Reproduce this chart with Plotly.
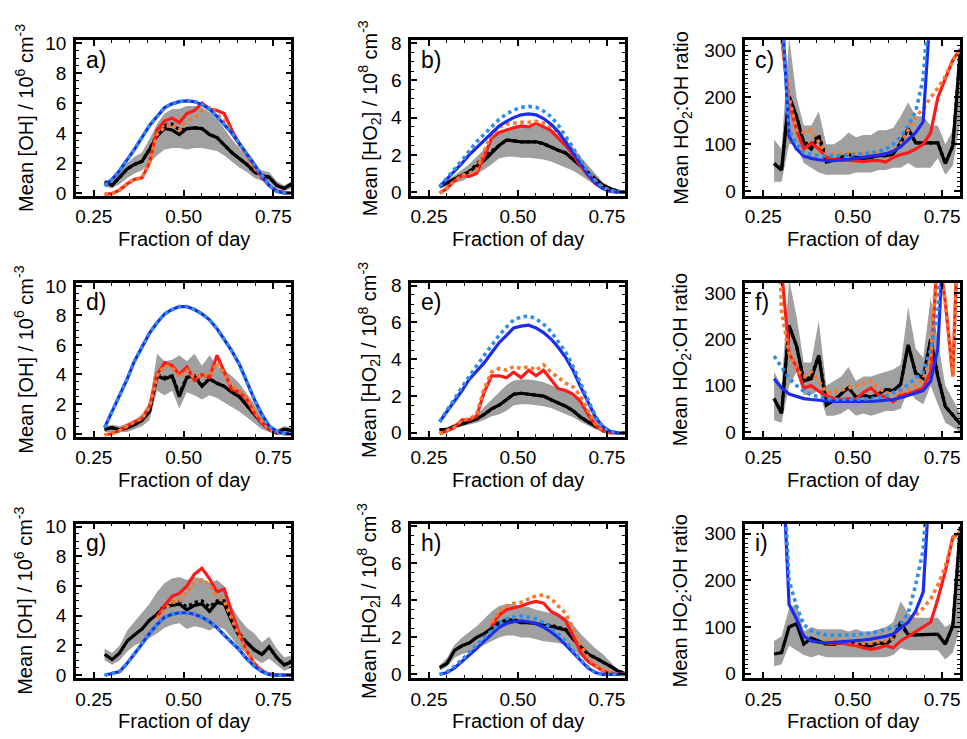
import plotly.graph_objects as go

# ---------------- data ----------------
X = [0.280, 0.301, 0.322, 0.343, 0.363, 0.384, 0.405, 0.426, 0.447, 0.468, 0.488, 0.509, 0.530,
     0.551, 0.572, 0.593, 0.613, 0.634, 0.655, 0.676, 0.697, 0.718, 0.738, 0.759, 0.780, 0.801]
N = None
X_TICKS = [0.25, 0.50, 0.75]
X_TICKTEXT = ["0.25", "0.50", "0.75"]

# panel a (OH)
a_lo = [0.4, 0.3, 0.6, 1.0, 1.3, 1.5, 2.0, 2.5, 2.9, 3.0, 3.0, 2.9, 3.0, 3.0, 2.9, 2.8, 2.5, 2.1, 1.7, 1.4, 1.0, 0.8, 0.7, 0.3, 0.1, 0.3]
a_hi = [0.9, 0.8, 1.4, 2.0, 2.4, 2.7, 3.6, 4.6, 5.3, 5.6, 5.6, 5.8, 5.8, 5.7, 5.4, 4.9, 4.3, 3.6, 3.0, 2.4, 1.8, 1.5, 1.4, 0.8, 0.5, 0.8]
a_obs = [0.7, 0.5, 1.05, 1.6, 1.9, 2.1, 2.9, 3.8, 4.3, 4.2, 3.9, 4.3, 4.35, 4.3, 3.9, 3.7, 3.2, 2.7, 2.3, 1.9, 1.4, 1.15, 1.05, 0.5, 0.3, 0.6]
a_obs_dot = [0.7, 0.5, 1.05, 1.6, 1.9, 2.1, 2.9, 3.9, 4.5, 4.6, 4.2, 4.3, 4.35, 4.3, 3.9, 3.7, 3.2, 2.7, 2.3, 1.9, 1.4, 1.15, 1.05, 0.5, 0.3, 0.6]
a_red = [-0.1, -0.05, 0.2, 0.6, 0.9, 1.0, 2.0, 4.2, 4.8, 5.0, 4.7, 5.3, 5.5, 6.0, 5.6, 5.5, 5.3, 4.2, 3.3, 2.5, 1.7, 1.0, 0.5, 0.15, 0.0, 0.0]
a_orange = [-0.1, -0.05, 0.2, 0.6, 0.9, 1.0, 2.0, 3.9, 4.4, 4.6, 4.2, 4.8, 5.0, 5.5, 5.7, 5.2, 4.8, 4.0, 3.2, 2.5, 1.7, 1.0, 0.5, 0.15, 0.0, 0.0]
a_blue = [0.5, 0.9, 1.5, 2.2, 2.9, 3.7, 4.5, 5.1, 5.7, 5.95, 6.1, 6.15, 6.1, 5.9, 5.6, 5.1, 4.6, 4.0, 3.3, 2.6, 1.9, 1.1, 0.5, 0.1, 0.0, 0.0]
a_lblue = [0.5, 0.9, 1.5, 2.2, 2.9, 3.7, 4.5, 5.1, 5.7, 5.95, 6.1, 6.15, 6.1, 5.9, 5.6, 5.1, 4.6, 4.0, 3.3, 2.6, 1.9, 1.1, 0.5, 0.1, 0.0, 0.0]

# panel b (HO2)
b_lo = [0.2, 0.3, 0.5, 0.6, 0.8, 1.0, 1.2, 1.5, 1.8, 1.9, 1.9, 1.85, 1.85, 1.8, 1.75, 1.65, 1.5, 1.35, 1.15, 0.9, 0.6, 0.35, 0.15, 0.05, 0.0, 0.0]
b_hi = [0.4, 0.6, 0.9, 1.2, 1.5, 1.9, 2.3, 2.8, 3.2, 3.4, 3.45, 3.5, 3.55, 3.6, 3.5, 3.3, 3.1, 2.8, 2.4, 1.9, 1.45, 0.95, 0.55, 0.3, 0.1, 0.0]
b_obs = [0.3, 0.5, 0.7, 0.9, 1.1, 1.4, 1.7, 2.1, 2.5, 2.8, 2.75, 2.7, 2.7, 2.7, 2.6, 2.4, 2.25, 2.1, 1.75, 1.4, 1.05, 0.65, 0.37, 0.2, 0.05, 0.0]
b_obs_dot = [0.3, 0.5, 0.7, 0.9, 1.1, 1.5, 1.9, 2.2, 2.5, 2.8, 2.75, 2.7, 2.7, 2.7, 2.6, 2.4, 2.25, 2.1, 1.75, 1.4, 1.05, 0.65, 0.37, 0.2, 0.05, 0.0]
b_red = [-0.05, 0.2, 0.6, 0.9, 0.85, 1.0, 1.9, 2.9, 3.2, 3.35, 3.45, 3.55, 3.5, 3.7, 3.5, 3.3, 2.9, 2.5, 2.0, 1.4, 0.9, 0.45, 0.2, 0.05, 0.0, 0.0]
b_orange = [-0.05, 0.2, 0.6, 0.9, 1.0, 1.2, 2.2, 3.1, 3.5, 3.65, 3.7, 3.75, 3.75, 3.8, 3.7, 3.5, 3.2, 2.8, 2.3, 1.7, 1.1, 0.6, 0.25, 0.08, 0.0, 0.0]
b_blue = [0.3, 0.7, 1.1, 1.55, 2.0, 2.4, 2.8, 3.2, 3.55, 3.8, 4.0, 4.15, 4.2, 4.15, 3.95, 3.65, 3.25, 2.7, 2.1, 1.5, 0.95, 0.5, 0.2, 0.05, 0.0, 0.0]
b_lblue = [0.3, 0.75, 1.2, 1.7, 2.2, 2.7, 3.1, 3.5, 3.9, 4.2, 4.4, 4.55, 4.6, 4.55, 4.35, 4.05, 3.6, 3.0, 2.35, 1.7, 1.1, 0.6, 0.25, 0.08, 0.0, 0.0]

# panel c (HO2:OH ratio)
c_lo = [20, 20, 100, 100, 60, 50, 40, 35, 35, 35, 35, 40, 40, 40, 45, 45, 50, 50, 60, 50, 50, 50, 70, 35, 55, 150]
c_hi = [110, 90, 330, 200, 140, 140, 170, 100, 100, 110, 125, 115, 120, 120, 130, 130, 135, 160, 190, 160, 160, 140, 140, 100, 130, 320]
c_obs = [59, 45, 203, 159, 103, 90, 117, 62, 66, 72, 79, 72, 69, 72, 76, 76, 79, 103, 134, 103, 103, 103, 103, 59, 97, 303]
c_obs_dot = [59, 45, 203, 159, 103, 100, 120, 70, 66, 72, 79, 72, 69, 72, 76, 76, 79, 103, 134, 103, 103, 103, 103, 59, 97, 303]
c_red = [700, 330, 190, 130, 90, 103, 90, 72, 68, 66, 66, 65, 63, 65, 65, 62, 72, 78, 82, 90, 100, 125, 200, 240, 280, 303]
c_orange = [700, 330, 200, 130, 125, 130, 105, 80, 80, 80, 80, 80, 80, 80, 80, 80, 85, 100, 130, 160, 175, 200, 220, 245, 280, 303]
c_blue = [800, 400, 117, 90, 75, 70, 67, 65, 65, 66, 68, 70, 72, 74, 77, 80, 85, 95, 110, 125, 148, 400, 800, N, N, N]
c_lblue = [800, 400, 130, 100, 82, 78, 76, 75, 75, 75, 76, 78, 80, 82, 85, 90, 100, 115, 140, 170, 240, 450, 800, N, N, N]

# panel d (OH)
d_lo = [0.1, 0.1, 0.05, 0.1, 0.3, 0.5, 0.9, 2.9, 2.6, 2.9, 1.7, 2.8, 2.6, 2.3, 2.6, 2.4, 2.1, 1.8, 1.5, 1.1, 0.7, 0.3, 0.1, -0.1, 0.0, 0.0]
d_hi = [0.5, 0.6, 0.5, 0.7, 0.9, 1.3, 2.1, 5.4, 4.9, 5.0, 5.3, 4.9, 5.4, 4.6, 5.3, 4.6, 4.3, 3.9, 3.4, 2.7, 2.0, 1.2, 0.6, 0.3, 0.5, 0.4]
d_obs = [0.3, 0.4, 0.25, 0.4, 0.6, 0.9, 1.5, 3.9, 3.7, 3.9, 2.5, 3.8, 3.9, 3.2, 3.7, 3.4, 3.2, 2.8, 2.5, 1.9, 1.3, 0.7, 0.3, 0.05, 0.3, 0.2]
d_obs_dot = [0.3, 0.4, 0.25, 0.4, 0.6, 0.9, 1.5, 4.0, 3.8, 3.9, 2.7, 3.8, 3.9, 3.3, 3.7, 3.4, 3.2, 2.8, 2.5, 1.9, 1.3, 0.7, 0.3, 0.05, 0.3, 0.2]
d_red = [-0.1, 0.0, 0.2, 0.5, 0.8, 1.0, 1.8, 4.0, 4.8, 4.6, 4.0, 4.5, 3.6, 4.0, 3.8, 5.3, 4.2, 3.0, 2.8, 2.3, 1.4, 0.7, 0.3, 0.1, 0.0, 0.0]
d_orange = [-0.1, 0.0, 0.2, 0.5, 0.8, 1.0, 1.8, 3.9, 4.6, 4.5, 3.8, 4.3, 3.8, 4.0, 3.9, 4.8, 4.0, 3.2, 2.9, 2.4, 1.5, 0.8, 0.3, 0.1, 0.0, 0.0]
d_blue = [0.4, 1.5, 2.6, 3.7, 4.9, 5.9, 6.8, 7.5, 8.1, 8.4, 8.6, 8.6, 8.4, 8.1, 7.7, 7.1, 6.4, 5.6, 4.7, 3.5, 2.3, 1.3, 0.5, 0.15, 0.0, 0.0]
d_lblue = [0.4, 1.5, 2.6, 3.7, 4.9, 5.9, 6.8, 7.5, 8.1, 8.4, 8.6, 8.6, 8.4, 8.1, 7.7, 7.1, 6.4, 5.6, 4.7, 3.5, 2.3, 1.3, 0.5, 0.15, 0.0, 0.0]

# panel e (HO2)
e_lo = [0.1, 0.1, 0.25, 0.35, 0.45, 0.55, 0.7, 0.9, 1.0, 1.2, 1.5, 1.55, 1.55, 1.5, 1.45, 1.35, 1.2, 1.05, 0.85, 0.6, 0.4, 0.2, 0.1, 0.0, 0.0, 0.0]
e_hi = [0.25, 0.3, 0.5, 0.7, 0.8, 1.0, 1.4, 1.8, 2.2, 2.6, 2.85, 2.9, 2.9, 2.85, 2.75, 2.6, 2.45, 2.25, 2.0, 1.6, 1.2, 0.75, 0.35, 0.1, 0.0, 0.0]
e_obs = [0.17, 0.17, 0.35, 0.5, 0.6, 0.75, 1.0, 1.3, 1.5, 1.8, 2.1, 2.15, 2.1, 2.05, 2.0, 1.8, 1.65, 1.45, 1.2, 0.85, 0.6, 0.35, 0.17, 0.03, 0.0, 0.0]
e_obs_dot = [0.17, 0.17, 0.35, 0.5, 0.6, 0.75, 1.0, 1.3, 1.5, 1.8, 2.1, 2.15, 2.1, 2.05, 2.0, 1.8, 1.65, 1.45, 1.2, 0.85, 0.6, 0.35, 0.17, 0.03, 0.0, 0.0]
e_red = [-0.05, 0.1, 0.3, 0.7, 0.7, 0.9, 2.2, 3.1, 3.1, 3.0, 3.3, 3.0, 3.4, 3.1, 3.4, 2.9, 2.4, 2.3, 2.1, 1.7, 1.0, 0.4, 0.1, 0.0, 0.0, 0.0]
e_orange = [-0.05, 0.1, 0.3, 0.7, 0.75, 1.0, 2.4, 3.3, 3.5, 3.4, 3.6, 3.5, 3.6, 3.4, 3.7, 3.3, 3.0, 2.7, 2.5, 2.0, 1.2, 0.5, 0.15, 0.0, 0.0, 0.0]
e_blue = [0.6, 1.15, 1.7, 2.3, 2.9, 3.35, 3.8, 4.35, 4.9, 5.3, 5.7, 5.8, 5.85, 5.7, 5.45, 5.1, 4.65, 4.1, 3.4, 2.5, 1.7, 0.85, 0.35, 0.08, 0.0, 0.0]
e_lblue = [0.6, 1.2, 1.85, 2.5, 3.1, 3.65, 4.2, 4.75, 5.3, 5.75, 6.15, 6.3, 6.35, 6.2, 5.9, 5.5, 5.0, 4.4, 3.6, 2.7, 1.8, 0.9, 0.35, 0.08, 0.0, 0.0]

# panel f (HO2:OH ratio)
f_lo = [25, 20, 100, 130, 80, 80, 90, 35, 35, 40, 50, 35, 40, 35, 40, 45, 45, 50, 90, 70, 60, 100, 60, 20, 10, 0]
f_hi = [130, 100, 330, 250, 150, 150, 240, 100, 110, 120, 140, 110, 120, 120, 125, 130, 135, 145, 270, 180, 160, 290, 200, 100, 70, 40]
f_obs = [72, 40, 230, 185, 110, 115, 165, 58, 68, 82, 96, 75, 79, 75, 82, 92, 89, 103, 188, 127, 116, 200, 120, 55, 35, 17]
f_obs_dot = [72, 40, 230, 185, 110, 120, 165, 65, 68, 82, 96, 75, 79, 75, 82, 92, 89, 103, 188, 127, 116, 200, 120, 55, 35, 17]
f_red = [700, 350, 170, 140, 95, 100, 88, 78, 72, 70, 72, 70, 85, 95, 80, 75, 65, 80, 82, 88, 95, 130, 400, 280, 120, 600]
f_orange = [700, 260, 170, 135, 120, 130, 110, 85, 85, 90, 95, 100, 105, 110, 95, 85, 80, 85, 90, 100, 115, 160, 400, 280, 120, 600]
f_blue = [115, 95, 82, 76, 72, 70, 68, 67, 66, 66, 65, 65, 65, 66, 67, 68, 70, 74, 79, 85, 89, 110, 180, 500, N, N]
f_lblue = [164, 140, 116, 100, 88, 80, 75, 72, 70, 70, 70, 70, 71, 72, 74, 78, 84, 92, 102, 115, 130, 178, 260, 600, N, N]

# panel g (OH)
g_lo = [1.0, 0.7, 1.0, 1.6, 2.0, 2.2, 2.5, 2.8, 3.2, 3.4, 3.5, 3.1, 3.3, 3.2, 3.0, 3.3, 3.1, 2.5, 1.8, 1.5, 1.1, 0.8, 1.1, 0.7, 0.3, 0.5]
g_hi = [1.8, 1.5, 2.0, 3.0, 3.6, 4.2, 4.8, 5.6, 6.2, 6.5, 6.6, 6.4, 6.6, 6.5, 6.2, 6.4, 6.0, 4.6, 3.8, 3.2, 2.8, 2.2, 2.6, 1.8, 1.2, 1.3]
g_obs = [1.4, 1.05, 1.5, 2.3, 2.7, 3.1, 3.7, 4.1, 4.6, 4.7, 4.8, 4.4, 4.7, 4.8, 4.3, 4.9, 4.8, 3.6, 2.6, 2.2, 1.7, 1.4, 1.9, 1.2, 0.7, 0.9]
g_obs_dot = [N, N, N, N, N, N, N, 4.1, 4.7, 4.9, 4.9, 4.6, 4.9, 5.0, 4.6, 5.0, 5.0, 3.8, 2.8, 2.2, 1.7, 1.4, 1.9, 1.2, 0.7, 0.9]
g_red = [N, N, N, N, N, N, N, 3.9, 4.7, 5.3, 5.5, 6.0, 6.8, 7.2, 6.5, 5.6, 5.8, 4.2, 2.8, 1.6, 0.8, 0.3, 0.05, 0.0, 0.0, 0.0]
g_orange = [N, N, N, N, N, N, N, 3.8, 4.4, 4.9, 5.0, 5.6, 6.2, 6.4, 6.1, 5.3, 5.0, 3.8, 2.6, 1.6, 0.8, 0.3, 0.1, 0.0, 0.0, 0.0]
g_blue = [0.0, 0.1, 0.25, 0.8, 1.4, 2.1, 2.8, 3.4, 3.9, 4.1, 4.2, 4.2, 4.1, 3.9, 3.6, 3.2, 2.7, 2.2, 1.7, 1.1, 0.6, 0.25, 0.05, 0.0, 0.0, 0.0]
g_lblue = [0.0, 0.1, 0.25, 0.8, 1.4, 2.1, 2.8, 3.4, 3.9, 4.1, 4.2, 4.2, 4.1, 3.9, 3.6, 3.2, 2.7, 2.2, 1.7, 1.1, 0.6, 0.25, 0.05, 0.0, 0.0, 0.0]

# panel h (HO2)
h_lo = [0.2, 0.4, 0.9, 1.1, 1.2, 1.4, 1.6, 1.8, 2.0, 2.1, 2.1, 2.0, 2.0, 1.9, 1.8, 1.75, 1.7, 1.6, 1.3, 1.0, 0.6, 0.4, 0.3, 0.2, 0.05, 0.0]
h_hi = [0.5, 0.9, 1.6, 2.0, 2.3, 2.6, 3.0, 3.4, 3.7, 3.8, 3.8, 3.7, 3.65, 3.5, 3.4, 3.3, 3.2, 3.1, 2.7, 2.2, 1.8, 1.4, 1.1, 0.7, 0.3, 0.1]
h_obs = [0.37, 0.6, 1.3, 1.55, 1.7, 2.0, 2.2, 2.5, 2.8, 2.9, 2.9, 2.8, 2.8, 2.75, 2.65, 2.6, 2.5, 2.4, 1.9, 1.5, 1.1, 0.9, 0.7, 0.45, 0.2, 0.05]
h_obs_dot = [N, N, N, N, N, N, N, 2.5, 2.8, 2.95, 2.95, 2.85, 2.8, 2.75, 2.7, 2.65, 2.55, 2.45, 1.95, 1.5, 1.1, 0.9, 0.7, 0.45, 0.2, 0.05]
h_red = [N, N, N, N, N, N, N, 2.6, 3.2, 3.5, 3.6, 3.7, 3.85, 3.95, 3.85, 3.4, 3.2, 2.9, 2.1, 1.2, 0.7, 0.45, 0.2, 0.1, 0.0, 0.0]
h_orange = [N, N, N, N, N, N, N, 2.8, 3.4, 3.7, 3.85, 3.9, 4.1, 4.25, 4.3, 4.1, 3.7, 3.3, 2.5, 1.6, 0.9, 0.5, 0.25, 0.1, 0.0, 0.0]
h_blue = [0.0, 0.1, 0.35, 0.7, 1.05, 1.4, 1.8, 2.2, 2.55, 2.75, 2.85, 2.9, 2.85, 2.75, 2.55, 2.3, 2.0, 1.6, 1.2, 0.75, 0.35, 0.1, 0.0, 0.0, 0.0, 0.0]
h_lblue = [0.0, 0.15, 0.45, 0.8, 1.2, 1.6, 2.0, 2.4, 2.75, 3.0, 3.1, 3.15, 3.1, 3.0, 2.8, 2.5, 2.2, 1.8, 1.3, 0.8, 0.4, 0.1, 0.0, 0.0, 0.0, 0.0]

# panel i (HO2:OH ratio)
i_lo = [15, 20, 60, 50, 40, 35, 40, 35, 35, 35, 35, 35, 35, 35, 35, 35, 40, 55, 50, 50, 50, 50, 50, 30, 45, 100]
i_hi = [70, 80, 140, 150, 90, 100, 95, 95, 95, 95, 90, 95, 90, 90, 95, 100, 110, 155, 130, 120, 120, 120, 120, 100, 110, 320]
i_obs = [42, 45, 100, 107, 63, 76, 70, 63, 63, 66, 66, 63, 59, 59, 66, 63, 76, 110, 83, 83, 84, 84, 84, 63, 103, 315]
i_obs_dot = [N, N, N, N, N, N, N, 63, 63, 66, 66, 63, 62, 62, 66, 68, 76, 105, 83, 83, 84, 84, 84, 63, 103, 315]
i_red = [N, N, N, N, N, N, N, 63, 65, 65, 62, 60, 55, 52, 55, 60, 55, 70, 80, 90, 100, 110, 160, 220, 293, 303]
i_orange = [N, N, N, N, N, N, N, 70, 72, 72, 68, 65, 65, 65, 68, 70, 75, 95, 110, 125, 140, 160, 190, 230, 290, 305]
i_blue = [700, 500, 148, 117, 80, 70, 67, 66, 67, 68, 70, 70, 72, 74, 77, 80, 85, 97, 110, 134, 175, 450, N, N, N, N]
i_lblue = [700, 500, 200, 144, 105, 92, 86, 83, 82, 82, 82, 83, 85, 87, 90, 95, 98, 105, 130, 190, 265, 500, N, N, N, N]

PANEL_LABELS = ["a)", "b)", "c)", "d)", "e)", "f)", "g)", "h)", "i)"]
X_TITLE = "Fraction of day"
Y_TITLES = {
    "oh": "Mean [OH] / 10<sup>6</sup> cm<sup>-3</sup>",
    "ho2": "Mean [HO<sub>2</sub>] / 10<sup>8</sup> cm<sup>-3</sup>",
    "ratio": "Mean HO<sub>2</sub>:OH ratio",
}

# ---------------- styling / layout ----------------
W, H = 967, 739
COLS = [(75, 291), (411, 625), (746, 961)]
ROWS = [(33, 192), (281, 438), (527, 685)]
YTITLE_X = [23, 369, 682]
FONT = "Liberation Sans, Arial, Helvetica, sans-serif"

C_GRAY = "#a0a0a0"
C_BLACK = "#000000"
C_RED = "#ff1a1a"
C_ORANGE = "#f7782f"
C_BLUE = "#1c2bf0"
C_LBLUE = "#2f8fe6"

YCFG = {
    "oh": dict(range=[-0.2, 10.2], dtick=2, minor=0.5),
    "ho2": dict(range=[-0.2, 8.15], dtick=2, minor=0.5),
    "ratio": dict(range=[-10, 322], dtick=100, minor=10),
}

panels = [
    ("oh", a_lo, a_hi, a_obs, a_obs_dot, a_red, a_orange, a_blue, a_lblue),
    ("ho2", b_lo, b_hi, b_obs, b_obs_dot, b_red, b_orange, b_blue, b_lblue),
    ("ratio", c_lo, c_hi, c_obs, c_obs_dot, c_red, c_orange, c_blue, c_lblue),
    ("oh", d_lo, d_hi, d_obs, d_obs_dot, d_red, d_orange, d_blue, d_lblue),
    ("ho2", e_lo, e_hi, e_obs, e_obs_dot, e_red, e_orange, e_blue, e_lblue),
    ("ratio", f_lo, f_hi, f_obs, f_obs_dot, f_red, f_orange, f_blue, f_lblue),
    ("oh", g_lo, g_hi, g_obs, g_obs_dot, g_red, g_orange, g_blue, g_lblue),
    ("ho2", h_lo, h_hi, h_obs, h_obs_dot, h_red, h_orange, h_blue, h_lblue),
    ("ratio", i_lo, i_hi, i_obs, i_obs_dot, i_red, i_orange, i_blue, i_lblue),
]

fig = go.Figure()
layout = dict(
    width=W, height=H, margin=dict(l=0, r=0, t=0, b=0),
    paper_bgcolor="white", plot_bgcolor="white", showlegend=False,
    font=dict(family=FONT, size=19, color="black"),
)
annotations = []

for k, (kind, lo, hi, obs, obs_dot, red, orange, blue, lblue) in enumerate(panels):
    r, c = divmod(k, 3)
    n = k + 1
    xa = "x" if n == 1 else f"x{n}"
    ya = "y" if n == 1 else f"y{n}"
    x0, x1 = COLS[c]
    y0, y1 = ROWS[r]
    dom_x = [x0 / W, x1 / W]
    dom_y = [1 - y1 / H, 1 - y0 / H]
    cfg = YCFG[kind]

    def add(y, color, width, dash="solid", **kw):
        fig.add_trace(go.Scatter(x=X, y=y, mode="lines", xaxis=xa, yaxis=ya,
                                 line=dict(color=color, width=width, dash=dash),
                                 hoverinfo="skip", **kw))

    add(lo, "rgba(0,0,0,0)", 0)
    add(hi, "rgba(0,0,0,0)", 0, fill="tonexty", fillcolor=C_GRAY)
    add(obs, C_BLACK, 3.2)
    add(obs_dot, C_BLACK, 3.2, "dot")
    add(red, C_RED, 3.2)
    add(orange, C_ORANGE, 3.6, "dot")
    add(blue, C_BLUE, 3.2)
    add(lblue, C_LBLUE, 3.6, "dot")

    axcommon = dict(showline=True, linecolor="black", linewidth=2.5, mirror="allticks",
                    ticks="inside", ticklen=6, tickwidth=1.5, tickcolor="black",
                    showgrid=False, zeroline=False, fixedrange=True,
                    tickfont=dict(family=FONT, size=19, color="black"))
    layout["xaxis" if n == 1 else f"xaxis{n}"] = dict(
        axcommon, domain=dom_x, anchor=ya, range=[0.2, 0.8],
        tickmode="array", tickvals=X_TICKS, ticktext=X_TICKTEXT, ticklabelstandoff=2,
        minor=dict(ticks="inside", ticklen=3, tickwidth=1.2, tickcolor="black",
                   tickmode="linear", tick0=0.2, dtick=0.05),
    )
    layout["yaxis" if n == 1 else f"yaxis{n}"] = dict(
        axcommon, domain=dom_y, anchor=xa, range=cfg["range"],
        tickmode="linear", tick0=0, dtick=cfg["dtick"], ticklabelstandoff=3,
        minor=dict(ticks="inside", ticklen=3, tickwidth=1.2, tickcolor="black",
                   tickmode="linear", tick0=0, dtick=cfg["minor"]),
    )

    # panel label
    annotations.append(dict(text=PANEL_LABELS[k], xref="paper", yref="paper",
                            x=(x0 + 8) / W, y=1 - (y0 + 20) / H, xanchor="left", yanchor="middle",
                            showarrow=False, font=dict(family=FONT, size=23, color="black")))
    # x title
    annotations.append(dict(text=X_TITLE, xref="paper", yref="paper",
                            x=(x0 + x1) / 2 / W, y=1 - (y1 + 44) / H, xanchor="center", yanchor="middle",
                            showarrow=False, font=dict(family=FONT, size=20, color="black")))
    # y title
    annotations.append(dict(text=Y_TITLES[kind], xref="paper", yref="paper", textangle=-90,
                            x=YTITLE_X[c] / W, y=1 - (y0 + y1) / 2 / H, xanchor="center", yanchor="middle",
                            showarrow=False, font=dict(family=FONT, size=20, color="black")))

layout["annotations"] = annotations
fig.update_layout(**layout)
fig.write_html("out.html", config={"displayModeBar": False})

# remove the default page margin so the 967x739 figure fits the window exactly
with open("out.html", "r", encoding="utf-8") as fh:
    html = fh.read()
html = html.replace("<head>", "<head><style>html,body{margin:0;padding:0;overflow:hidden;}</style>", 1)
with open("out.html", "w", encoding="utf-8") as fh:
    fh.write(html)
